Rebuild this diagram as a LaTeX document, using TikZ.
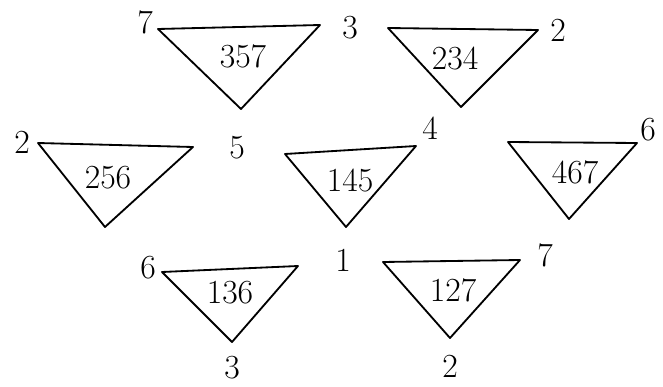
\documentclass[tikz,border=0pt]{standalone}
\begin{document}
\begin{tikzpicture}[x=0.025cm,y=-0.025cm,line width=1.3pt,line join=round,
  face/.style={font=\fontsize{24}{28}\selectfont},
  vert/.style={font=\fontsize{24}{28}\selectfont}]

\useasboundingbox (0,0) rectangle (663,387);

% top row
\coordinate (a1) at (158,29); \coordinate (a2) at (320,25); \coordinate (a3) at (241,109);
\draw (a1) -- (a2) -- (a3) -- cycle;
\node[face] (f357) at (243,56) {357};

\coordinate (b1) at (388,28); \coordinate (b2) at (538,30); \coordinate (b3) at (461,107);
\draw (b1) -- (b2) -- (b3) -- cycle;
\node[face] (f234) at (455,58) {234};

% middle row
\coordinate (c1) at (38,143); \coordinate (c2) at (193,147); \coordinate (c3) at (105,227);
\draw (c1) -- (c2) -- (c3) -- cycle;
\node[face] (f256) at (108,178) {256};

\coordinate (d1) at (285,154); \coordinate (d2) at (416,146); \coordinate (d3) at (346,227);
\draw (d1) -- (d2) -- (d3) -- cycle;
\node[face] (f145) at (350,180) {145};

\coordinate (e1) at (508,142); \coordinate (e2) at (637,143); \coordinate (e3) at (569,219);
\draw (e1) -- (e2) -- (e3) -- cycle;
\node[face] (f467) at (575,172) {467};

% bottom row
\coordinate (g1) at (162,272); \coordinate (g2) at (298,266); \coordinate (g3) at (232,342);
\draw (g1) -- (g2) -- (g3) -- cycle;
\node[face] (f136) at (230,293) {136};

\coordinate (h1) at (383,262); \coordinate (h2) at (520,260); \coordinate (h3) at (450,338);
\draw (h1) -- (h2) -- (h3) -- cycle;
\node[face] (f127) at (453,290) {127};

% vertex numbers
\node[vert] (v7a) at (145,22) {7};
\node[vert] (v3a) at (350,28) {3};
\node[vert] (v2a) at (558,30) {2};
\node[vert] (v2b) at (22,142) {2};
\node[vert] (v5)  at (237,148) {5};
\node[vert] (v4)  at (430,128) {4};
\node[vert] (v6a) at (648,130) {6};
\node[vert] (v6b) at (148,268) {6};
\node[vert] (v1)  at (343,260) {1};
\node[vert] (v7b) at (545,255) {7};
\node[vert] (v3b) at (232,368) {3};
\node[vert] (v2c) at (450,366) {2};

\end{tikzpicture}
\end{document}
